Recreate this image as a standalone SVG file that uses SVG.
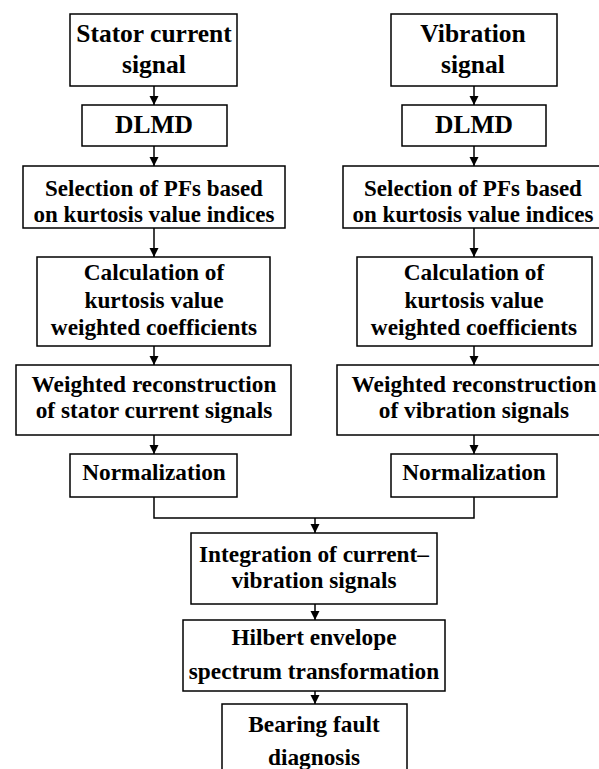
<svg xmlns="http://www.w3.org/2000/svg" width="599" height="769" viewBox="0 0 599 769">
<style>
.box{fill:#fff;stroke:#000;stroke-width:1.5}
.t{font-family:"Liberation Serif","Times New Roman",serif;font-weight:bold;font-size:23.3px;text-anchor:middle;fill:#000}
.big{font-size:25.5px}
.sel{font-size:23px}
.c{fill:none;stroke:#000;stroke-width:1.5}
</style>
<defs>
<marker id="ah" markerWidth="10" markerHeight="10" refX="9" refY="5" orient="auto" markerUnits="userSpaceOnUse">
<path d="M0,0.5 L9,5 L0,9.5 Z" fill="#000"/>
</marker>
</defs>
<rect width="599" height="769" fill="#fff"/>
<g id="connectors">
<line class="c" x1="154" y1="86" x2="154" y2="105" marker-end="url(#ah)"/>
<line class="c" x1="154" y1="146" x2="154" y2="166" marker-end="url(#ah)"/>
<line class="c" x1="154" y1="228" x2="154" y2="257" marker-end="url(#ah)"/>
<line class="c" x1="154" y1="346" x2="154" y2="365" marker-end="url(#ah)"/>
<line class="c" x1="154" y1="435" x2="154" y2="454" marker-end="url(#ah)"/>
<line class="c" x1="474" y1="86" x2="474" y2="105" marker-end="url(#ah)"/>
<line class="c" x1="474" y1="146" x2="474" y2="166" marker-end="url(#ah)"/>
<line class="c" x1="474" y1="228" x2="474" y2="257" marker-end="url(#ah)"/>
<line class="c" x1="474" y1="346" x2="474" y2="365" marker-end="url(#ah)"/>
<line class="c" x1="474" y1="435" x2="474" y2="454" marker-end="url(#ah)"/>
<polyline class="c" points="154,497 154,518 474,518 474,497"/>
<line class="c" x1="315" y1="518" x2="315" y2="533" marker-end="url(#ah)"/>
<line class="c" x1="315" y1="604" x2="315" y2="620" marker-end="url(#ah)"/>
<line class="c" x1="315" y1="691" x2="315" y2="704" marker-end="url(#ah)"/>
</g>
<g id="stator">
<rect class="box" x="70" y="14" width="167" height="72"/>
<text class="t big" x="154" y="42">Stator current</text>
<text class="t big" x="154" y="73">signal</text>
</g>
<g id="dlmd-left">
<rect class="box" x="82" y="105" width="145" height="41"/>
<text class="t big" x="154" y="133">DLMD</text>
</g>
<g id="selection-left">
<rect class="box" x="23" y="166" width="262" height="62"/>
<text class="t sel" x="154" y="195.5">Selection of PFs based</text>
<text class="t sel" x="154" y="221.5">on kurtosis value indices</text>
</g>
<g id="calc-left">
<rect class="box" x="37" y="257" width="233" height="89"/>
<text class="t" x="154" y="280">Calculation of</text>
<text class="t" x="154" y="308">kurtosis value</text>
<text class="t" x="154" y="335">weighted coefficients</text>
</g>
<g id="recon-left">
<rect class="box" x="16" y="365" width="275" height="70"/>
<text class="t" x="154" y="392">Weighted reconstruction</text>
<text class="t" x="154" y="418">of stator current signals</text>
</g>
<g id="norm-left">
<rect class="box" x="70" y="454" width="167" height="43"/>
<text class="t" x="154" y="480">Normalization</text>
</g>
<g id="vibration">
<rect class="box" x="391" y="14" width="166" height="72"/>
<text class="t big" x="473" y="42">Vibration</text>
<text class="t big" x="473" y="73">signal</text>
</g>
<g id="dlmd-right">
<rect class="box" x="402" y="105" width="144" height="41"/>
<text class="t big" x="474" y="133">DLMD</text>
</g>
<g id="selection-right">
<rect class="box" x="343" y="166" width="262" height="62"/>
<text class="t sel" x="473" y="195.5">Selection of PFs based</text>
<text class="t sel" x="473" y="221.5">on kurtosis value indices</text>
</g>
<g id="calc-right">
<rect class="box" x="357" y="257" width="235" height="89"/>
<text class="t" x="474" y="280">Calculation of</text>
<text class="t" x="474" y="308">kurtosis value</text>
<text class="t" x="474" y="335">weighted coefficients</text>
</g>
<g id="recon-right">
<rect class="box" x="337" y="365" width="275" height="70"/>
<text class="t" x="474" y="392">Weighted reconstruction</text>
<text class="t" x="474" y="418">of vibration signals</text>
</g>
<g id="norm-right">
<rect class="box" x="391" y="454" width="166" height="43"/>
<text class="t" x="474" y="480">Normalization</text>
</g>
<g id="integration">
<rect class="box" x="191" y="533" width="246" height="71"/>
<text class="t" x="314" y="562">Integration of current–</text>
<text class="t" x="314" y="588">vibration signals</text>
</g>
<g id="hilbert">
<rect class="box" x="183" y="620" width="262" height="71"/>
<text class="t" x="314" y="645">Hilbert envelope</text>
<text class="t" x="314" y="679">spectrum transformation</text>
</g>
<g id="bearing">
<rect class="box" x="222" y="704" width="185" height="80"/>
<text class="t" x="314" y="732">Bearing fault</text>
<text class="t" x="314" y="765">diagnosis</text>
</g>
</svg>
